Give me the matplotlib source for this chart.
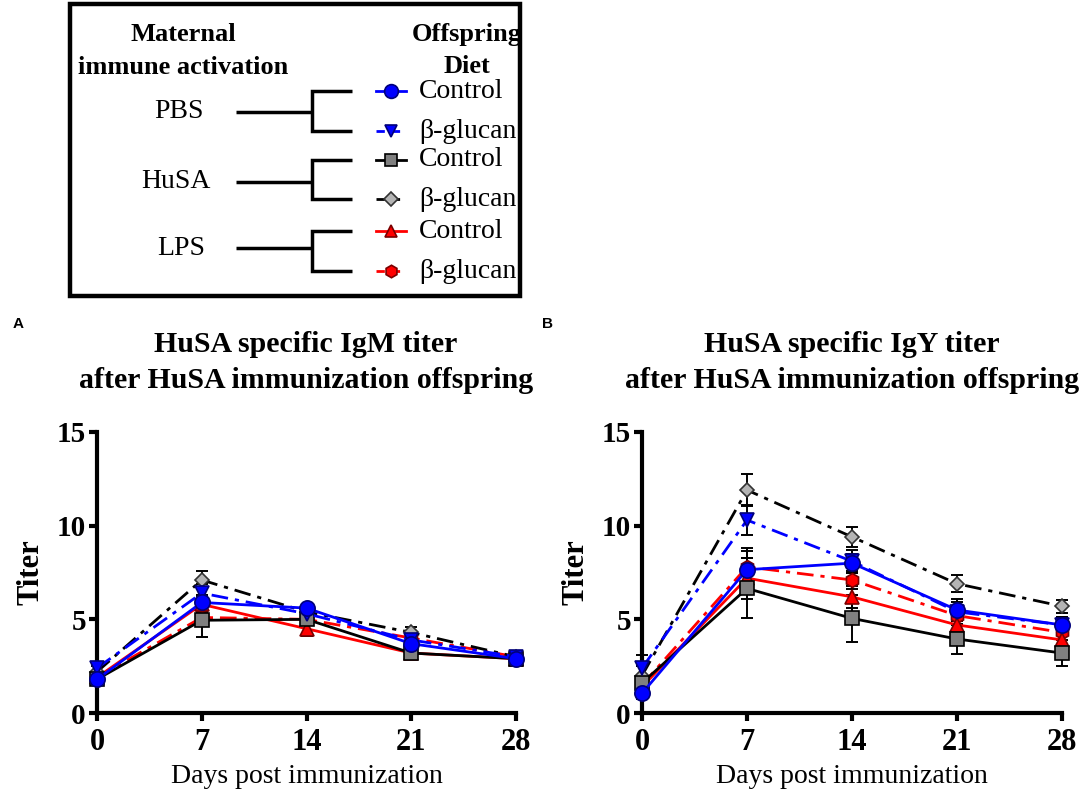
import numpy as np
import matplotlib
matplotlib.use("Agg")
import matplotlib.pyplot as plt
from matplotlib.patches import Rectangle

plt.rcParams['font.family'] = ['Liberation Serif', 'DejaVu Serif']

# %% data
days = [0, 7, 14, 21, 28]
groups = ["PBS", "HuSA", "LPS"]
diets = ["Control", "β-glucan"]

# IgM titer (panel A)
igm_pbs_ctrl = [1.8, 5.9, 5.6, 3.7, 2.9]
igm_pbs_bg = [2.4, 6.4, 5.3, 3.9, 3.0]
igm_husa_ctrl = [1.8, 4.95, 5.0, 3.2, 2.9]
igm_husa_bg = [2.2, 7.1, 5.4, 4.3, 3.0]
igm_lps_ctrl = [1.9, 5.8, 4.5, 3.2, 2.9]
igm_lps_bg = [1.9, 5.1, 5.0, 4.0, 3.0]

igm_pbs_ctrl_err = [0.2, 0.4, 0.2, 0.2, 0.2]
igm_pbs_bg_err = [0.3, 0.5, 0.3, 0.3, 0.2]
igm_husa_ctrl_err = [0.3, 0.9, 0.3, 0.3, 0.3]
igm_husa_bg_err = [0.3, 0.5, 0.3, 0.3, 0.2]
igm_lps_ctrl_err = [0.2, 0.4, 0.4, 0.2, 0.2]
igm_lps_bg_err = [0.2, 0.4, 0.3, 0.2, 0.2]

# IgY titer (panel B)
igy_pbs_ctrl = [1.05, 7.65, 8.0, 5.5, 4.7]
igy_pbs_bg = [2.4, 10.3, 8.1, 5.4, 4.7]
igy_husa_ctrl = [1.6, 6.65, 5.05, 3.95, 3.2]
igy_husa_bg = [2.0, 11.9, 9.4, 6.9, 5.7]
igy_lps_ctrl = [1.4, 7.2, 6.2, 4.7, 3.9]
igy_lps_bg = [1.5, 7.8, 7.1, 5.2, 4.3]

igy_pbs_ctrl_err = [0.3, 1.0, 0.5, 0.6, 0.4]
igy_pbs_bg_err = [0.7, 0.8, 0.6, 0.5, 0.4]
igy_husa_ctrl_err = [0.3, 1.6, 1.25, 0.8, 0.7]
igy_husa_bg_err = [0.5, 0.85, 0.55, 0.45, 0.35]
igy_lps_ctrl_err = [0.3, 1.1, 0.6, 0.5, 0.4]
igy_lps_bg_err = [0.3, 1.0, 0.5, 0.5, 0.4]

titles = [("HuSA specific IgM titer", "after HuSA immunization offspring"),
          ("HuSA specific IgY titer", "after HuSA immunization offspring")]

# %% styles: (group, diet) -> look
styles = {
    ("PBS", "Control"):   dict(color="#0000ff", marker="o", mfc="#0000ff", mec="#00007a", ms=11, ls="-"),
    ("PBS", "β-glucan"):  dict(color="#0000ff", marker="v", mfc="#0000ff", mec="#00007a", ms=10, ls="-."),
    ("HuSA", "Control"):  dict(color="black", marker="s", mfc="#808080", mec="black", ms=10, ls="-"),
    ("HuSA", "β-glucan"): dict(color="black", marker="D", mfc="#b4b4b4", mec="#333333", ms=7.5, ls="-."),
    ("LPS", "Control"):   dict(color="#ff0000", marker="^", mfc="#ff0000", mec="#7a0000", ms=10, ls="-"),
    ("LPS", "β-glucan"):  dict(color="#ff0000", marker="h", mfc="#ff0000", mec="#7a0000", ms=10, ls="-."),
}

igm = {("PBS", "Control"): (igm_pbs_ctrl, igm_pbs_ctrl_err),
       ("PBS", "β-glucan"): (igm_pbs_bg, igm_pbs_bg_err),
       ("HuSA", "Control"): (igm_husa_ctrl, igm_husa_ctrl_err),
       ("HuSA", "β-glucan"): (igm_husa_bg, igm_husa_bg_err),
       ("LPS", "Control"): (igm_lps_ctrl, igm_lps_ctrl_err),
       ("LPS", "β-glucan"): (igm_lps_bg, igm_lps_bg_err)}
igy = {("PBS", "Control"): (igy_pbs_ctrl, igy_pbs_ctrl_err),
       ("PBS", "β-glucan"): (igy_pbs_bg, igy_pbs_bg_err),
       ("HuSA", "Control"): (igy_husa_ctrl, igy_husa_ctrl_err),
       ("HuSA", "β-glucan"): (igy_husa_bg, igy_husa_bg_err),
       ("LPS", "Control"): (igy_lps_ctrl, igy_lps_ctrl_err),
       ("LPS", "β-glucan"): (igy_lps_bg, igy_lps_bg_err)}

draw_order = [("LPS", "β-glucan"), ("LPS", "Control"), ("HuSA", "β-glucan"),
              ("HuSA", "Control"), ("PBS", "β-glucan"), ("PBS", "Control")]

W, H = 1084, 805
fig = plt.figure(figsize=(W / 100, H / 100), dpi=100)


def px(x0, y0, x1, y1):
    # pixel box -> figure fraction
    return [x0 / W, 1 - y1 / H, (x1 - x0) / W, (y1 - y0) / H]


def panel(ax, data):
    for key in draw_order:
        m, e = data[key]
        st = styles[key]
        ax.errorbar(days, m, yerr=e, fmt="none", ecolor="black", elinewidth=1.4,
                    capsize=4.5, capthick=1.4, zorder=2, clip_on=False)
        ln, = ax.plot(days, m, color=st["color"], ls=st["ls"], lw=2.0,
                      marker=st["marker"], mfc=st["mfc"], mec=st["mec"], mew=1.2,
                      ms=st["ms"], zorder=3, clip_on=False)
        if st["ls"] == "-.":
            ln.set_dashes((6, 2.5, 1.5, 2.5))
    ax.set_xlim(0, 28)
    ax.set_ylim(0, 15)
    ax.set_xticks(days)
    ax.set_yticks([0, 5, 10, 15])
    for s in ["top", "right"]:
        ax.spines[s].set_visible(False)
    for s in ["left", "bottom"]:
        ax.spines[s].set_linewidth(3.0)
    ax.tick_params(width=3.0, length=6, direction="out")
    ax.tick_params(axis="y", labelsize=21, pad=2)
    ax.tick_params(axis="x", labelsize=22, pad=5)
    for lab in ax.get_xticklabels() + ax.get_yticklabels():
        lab.set_fontweight("bold")
    ax.set_xlabel("Days post immunization", fontsize=20, labelpad=5)
    ax.set_ylabel("Titer", fontsize=22, fontweight="bold", labelpad=8)


axA = fig.add_axes(px(97, 432, 516, 713))
panel(axA, igm)
axB = fig.add_axes(px(642, 432, 1062, 713))
panel(axB, igy)

# titles, baselines in pixels, centred over each axes
for cx, (l1, l2) in zip([306, 852], titles):
    fig.text(cx / W, 1 - 352 / H, l1, ha="center", va="baseline",
             fontsize=21.5, fontweight="bold")
    fig.text(cx / W, 1 - 388 / H, l2, ha="center", va="baseline",
             fontsize=21.5, fontweight="bold")

fig.text(13 / W, 1 - 328 / H, "A", fontsize=11, fontweight="bold",
         family="Liberation Sans", va="baseline")
fig.text(542 / W, 1 - 328 / H, "B", fontsize=11, fontweight="bold",
         family="Liberation Sans", va="baseline")

# %% legend box drawn in pixel coordinates
lg = fig.add_axes([0, 0, 1, 1])
lg.set_xlim(0, W)
lg.set_ylim(H, 0)
lg.axis("off")
lg.add_patch(Rectangle((70, 4), 450, 292, fill=False, lw=3.2, ec="black"))
lg.text(183, 41, "Maternal", ha="center", va="baseline", fontsize=19, fontweight="bold")
lg.text(183, 74, "immune activation", ha="center", va="baseline", fontsize=19, fontweight="bold")
lg.text(467, 41, "Offspring", ha="center", va="baseline", fontsize=19, fontweight="bold")
lg.text(467, 73, "Diet", ha="center", va="baseline", fontsize=19, fontweight="bold")

group_y = [112, 182, 248]
group_x = [179, 176, 181]
row_y = [[91, 131], [160, 199], [231, 271]]
for gi, g in enumerate(groups):
    yc = group_y[gi]
    lg.text(group_x[gi], yc, g, ha="center", va="center", fontsize=20)
    lg.plot([236, 312], [yc, yc], color="black", lw=2.5, solid_capstyle="butt")
    y0, y1 = row_y[gi]
    lg.plot([352, 312, 312, 352], [y0, y0, y1, y1], color="black", lw=2.5,
            solid_joinstyle="miter", solid_capstyle="butt")
    for di, d in enumerate(diets):
        st = styles[(g, d)]
        yy = row_y[gi][di]
        lg.plot([376, 406], [yy, yy], color=st["color"], lw=2.0,
                ls="-" if st["ls"] == "-" else (0, (3, 2.5)))
        lg.plot([391], [yy], marker=st["marker"], mfc=st["mfc"], mec=st["mec"],
                mew=1.2, ms=st["ms"] * 0.9, ls="none")
        lg.text(419, yy, d, ha="left", va="center", fontsize=20)

fig.savefig("out.png", dpi=100)
